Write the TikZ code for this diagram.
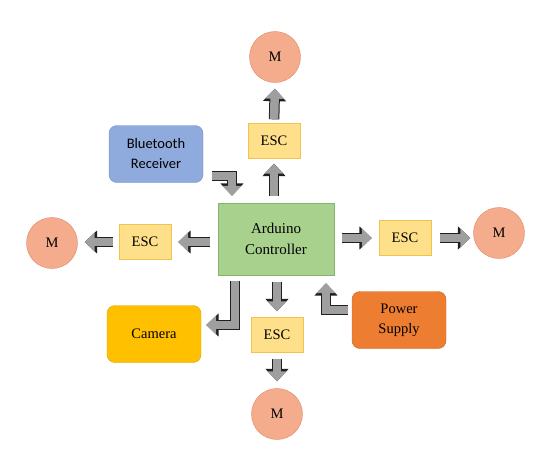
\documentclass[tikz,border=0pt]{standalone}
\usepackage{fontspec}
\setmainfont{Liberation Serif}
\newfontfamily\calibrifont{Carlito}
\usetikzlibrary{arrows.meta, positioning, calc}

\definecolor{escfill}{HTML}{FFE08A}
\definecolor{escdraw}{HTML}{F2C14E}
\definecolor{motorfill}{HTML}{F4AC8C}
\definecolor{motordraw}{HTML}{E0876A}
\definecolor{ctrlfill}{HTML}{A9D18E}
\definecolor{ctrldraw}{HTML}{86B46A}
\definecolor{btfill}{HTML}{8FAADC}
\definecolor{btdraw}{HTML}{6C8CC4}
\definecolor{camfill}{HTML}{FFC000}
\definecolor{camdraw}{HTML}{D9A300}
\definecolor{pwfill}{HTML}{ED7D31}
\definecolor{pwdraw}{HTML}{C8651F}

\begin{document}
\begin{tikzpicture}[
    x=1pt, y=-1pt,
    esc/.style={rectangle, minimum width=52pt, minimum height=35pt, text centered, draw=escdraw, fill=escfill, font=\fontsize{14.5}{17}\selectfont},
    motor/.style={circle, minimum size=51pt, inner sep=0pt, draw=motordraw, fill=motorfill, font=\fontsize{14.5}{17}\selectfont},
    ctrl/.style={rectangle, minimum width=116pt, minimum height=72pt, align=center, draw=ctrldraw, fill=ctrlfill, font=\fontsize{15}{21}\selectfont},
    unit/.style={rectangle, rounded corners=8pt, minimum width=94pt, minimum height=57pt, align=center, font=\fontsize{14.5}{20}\selectfont},
    blockarrow/.style={line width=8.5pt, draw=gray!75, line join=miter, -{Triangle[width=19pt,length=10pt]},
        preaction={draw=gray!25!black, line width=10.5pt, line join=miter, -{Triangle[width=22.5pt,length=12.5pt]}}},
]
    \useasboundingbox (0,0) rectangle (549,475);

    \node (ctrl) [ctrl] at (276,239) {Arduino\\Controller};

    \node (escT) [esc] at (274,141) {ESC};
    \node (escL) [esc] at (145,242) {ESC};
    \node (escR) [esc] at (405,238) {ESC};
    \node (escB) [esc] at (277,335) {ESC};

    \node (mT) [motor] at (275,57) {M};
    \node (mL) [motor] at (52,243) {M};
    \node (mR) [motor] at (499,233) {M};
    \node (mB) [motor] at (277,414) {M};

    \node (bt) [unit, draw=btdraw, fill=btfill, font=\calibrifont\fontsize{14.5}{20}\selectfont] at (156,154) {Bluetooth\\Receiver};
    \node (cam) [unit, draw=camdraw, fill=camfill] at (154,334) {Camera};
    \node (pw) [unit, draw=pwdraw, fill=pwfill] at (399,320) {Power\\Supply};

    % controller to ESCs
    \draw [blockarrow, shorten <=7pt, shorten >=5pt] (escT.south |- ctrl.north) -- (escT.south);
    \draw [blockarrow, shorten <=8pt, shorten >=7pt] (ctrl.west |- escL.east) -- (escL.east);
    \draw [blockarrow, shorten <=8pt, shorten >=7pt] (ctrl.east |- escR.west) -- (escR.west);
    \draw [blockarrow, shorten <=7pt, shorten >=6pt] (escB.north |- ctrl.south) -- (escB.north);

    % ESCs to motors
    \draw [blockarrow, shorten <=4pt, shorten >=6pt] (escT.north) -- (mT.south);
    \draw [blockarrow, shorten <=6pt, shorten >=7pt] (escL.west) -- (mL.east |- escL.west);
    \draw [blockarrow, shorten <=9pt, shorten >=3pt] (escR.east) -- (mR.west |- escR.east);
    \draw [blockarrow, shorten <=6pt, shorten >=7pt] (escB.south) -- (mB.north);

    % inputs and camera
    \draw [blockarrow] ([xshift=9pt,yshift=-22pt]bt.east) -| ([xshift=-44pt,yshift=7pt]ctrl.north);
    \draw [blockarrow] ([xshift=-4pt,yshift=10pt]pw.west) -| ([xshift=50pt,yshift=-8pt]ctrl.south);
    \draw [blockarrow] ([xshift=-41pt,yshift=-6pt]ctrl.south) |- ([xshift=5pt,yshift=9pt]cam.east);
\end{tikzpicture}
\end{document}
